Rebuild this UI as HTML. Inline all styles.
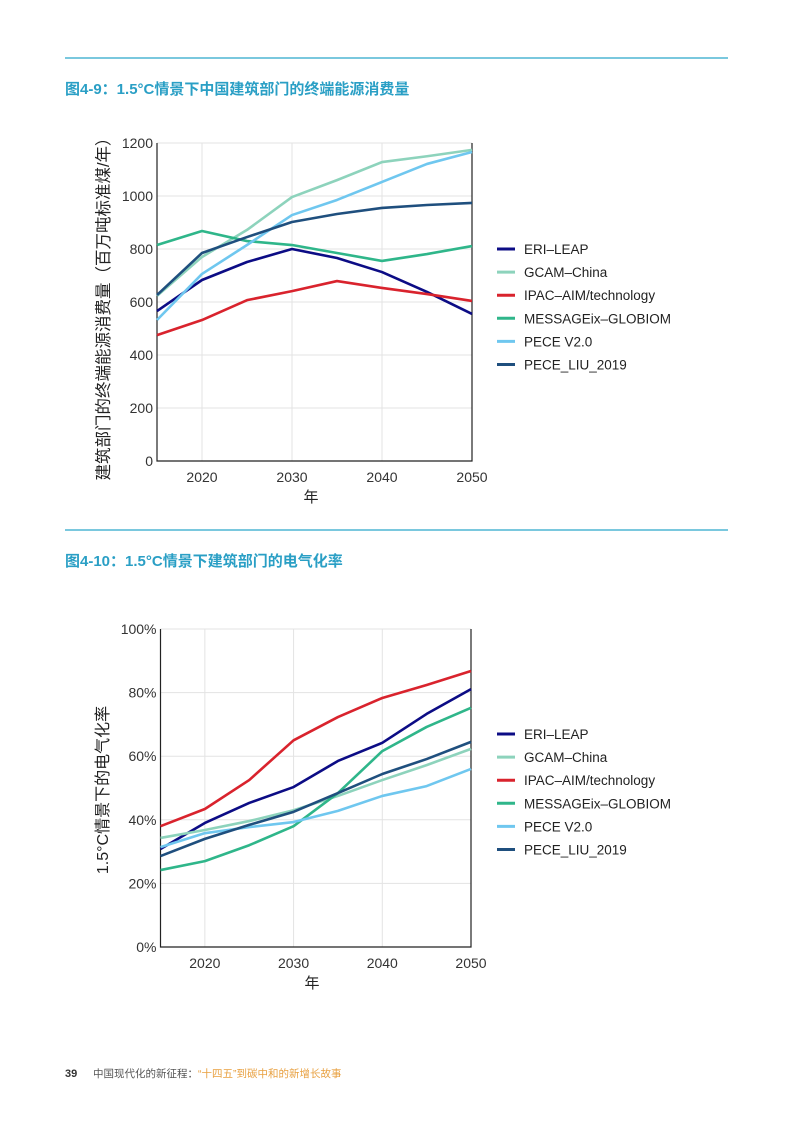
<!DOCTYPE html>
<html><head><meta charset="utf-8">
<style>
body{margin:0;background:#fff;width:793px;height:1122px;overflow:hidden;font-family:"Liberation Sans","Noto Sans CJK SC",sans-serif;}
svg{position:absolute;left:0;top:0}
</style></head>
<body>
<svg id="svg" width="793" height="1122">
<line x1="65" y1="58" x2="728" y2="58" stroke="#2aa6c9" stroke-width="1.2"/>
<text x="65" y="94" font-size="15" font-weight="bold" fill="#2a9fc5">图4-9：1.5°C情景下中国建筑部门的终端能源消费量</text>
<line x1="65" y1="530" x2="728" y2="530" stroke="#2aa6c9" stroke-width="1.2"/>
<text x="65" y="566" font-size="15" font-weight="bold" fill="#2a9fc5">图4-10：1.5°C情景下建筑部门的电气化率</text>
<text x="65" y="1077" font-size="11" font-weight="bold" fill="#333">39</text>
<text x="93" y="1077" font-size="10.5" fill="#555">中国现代化的新征程：<tspan fill="#e8a040">“十四五”到碳中和的新增长故事</tspan></text>
<g id="c1"></g>
<g id="c2"></g>
</svg>
<script>
const years=[2015,2020,2025,2030,2035,2040,2045,2050];
const seriesNames=["ERI–LEAP","GCAM–China","IPAC–AIM/technology","MESSAGEix–GLOBIOM","PECE V2.0","PECE_LIU_2019"];
const colors=["#0c0c85","#8dd3bc","#d9232d","#2fb68a","#6fc7ef","#1f4f7e"];
const energyERI=[566,683,751,800,766,713,638,555];
const energyGCAM=[623,770,872,996,1060,1128,1150,1174];
const energyIPAC=[475,532,607,641,679,653,630,604];
const energyMESSAGE=[815,868,830,815,785,755,781,811];
const energyPECE=[532,706,815,928,985,1053,1121,1166];
const energyLIU=[626,785,845,902,932,955,966,974];
const elecERI=[30.8,39,45.3,50.3,58.5,64.2,73.3,81.1];
const elecGCAM=[34.3,36.8,39.6,43,47.5,52.5,57.2,62.3];
const elecIPAC=[38,43.4,52.5,65,72.3,78.3,82.4,86.8];
const elecMESSAGE=[24.2,27,32,38,48.4,61.6,69.2,75.2];
const elecPECE=[31.4,35.8,37.7,39.3,42.8,47.5,50.6,56];
const elecLIU=[28.6,34,38.4,42.5,48.4,54.4,59.1,64.5];
const yTicks1=[0,200,400,600,800,1000,1200];
const yTicks2=[0,20,40,60,80,100];
const xTicks=[2020,2030,2040,2050];
const NS="http://www.w3.org/2000/svg";
function mk(p,t,a){const e=document.createElementNS(NS,t);for(const k in a)e.setAttribute(k,a[k]);p.appendChild(e);return e;}
function chart(g,cfg){
  const X=v=>cfg.x0+(v-2015)/(2050-2015)*(cfg.x1-cfg.x0);
  const Y=v=>cfg.y0-(v-cfg.ymin)/(cfg.ymax-cfg.ymin)*(cfg.y0-cfg.y1);
  cfg.yt.forEach(t=>{
    const l=mk(g,'line',{x1:cfg.x0,x2:cfg.x1,y1:Y(t),y2:Y(t),stroke:'#e3e3e3','stroke-width':1});
    
    
    const tk=mk(g,'text',{x:cfg.x0-4,y:Y(t)+5,'font-size':14,fill:'#333','text-anchor':'end'});
    tk.textContent=cfg.fmt(t);
    
    
  });
  xTicks.forEach(t=>{
    if(t<2050){const l=mk(g,'line',{x1:X(t),x2:X(t),y1:cfg.y1,y2:cfg.y0,stroke:'#e3e3e3','stroke-width':1});
    
    }
    const tk=mk(g,'text',{x:X(t),y:cfg.y0+21,'font-size':14,fill:'#333','text-anchor':'middle'});
    tk.textContent=t;
    
    
  });
  const ax=mk(g,'path',{d:`M${cfg.x0},${cfg.y1}V${cfg.y0}H${cfg.x1}V${cfg.y1}`,fill:'none',stroke:'#222','stroke-width':1.2});
  
  
  cfg.data.forEach((d,i)=>{
    const p=mk(g,'polyline',{points:d.map((v,j)=>X(years[j])+','+Y(v)).join(' '),fill:'none',stroke:colors[i],'stroke-width':2.6,'stroke-linejoin':'round'});
    
    
    const ly=cfg.ly+i*23.1;
    const ll=mk(g,'line',{x1:497,x2:515,y1:ly,y2:ly,stroke:colors[i],'stroke-width':3});
    
    
    const lt=mk(g,'text',{x:524,y:ly+5,'font-size':13.5,fill:'#222'});
    lt.textContent=seriesNames[i];
    
    
  });
  const xt=mk(g,'text',{x:cfg.xtx,y:cfg.y0+41,'font-size':15,fill:'#222','text-anchor':'middle'});
  xt.textContent='年';
  
  
  const yt=mk(g,'text',{x:0,y:0,'font-size':cfg.yfs,fill:'#222','text-anchor':'middle',transform:`translate(${cfg.ytx},${cfg.yty}) rotate(-90)`});
  yt.textContent=cfg.ytitle;
  
  
}
chart(document.getElementById('c1'),{x0:157,x1:472,y0:461,y1:143,ymin:0,ymax:1200,yt:yTicks1,fmt:t=>t,xtx:311,yfs:16.5,yty:305,
  data:[energyERI,energyGCAM,energyIPAC,energyMESSAGE,energyPECE,energyLIU],ly:249,ytx:109,ytitle:'建筑部门的终端能源消费量（百万吨标准煤/年）'});
chart(document.getElementById('c2'),{x0:160.5,x1:471,y0:947,y1:629,ymin:0,ymax:100,yt:yTicks2,fmt:t=>t+'%',xtx:312,yfs:16,yty:790,
  data:[elecERI,elecGCAM,elecIPAC,elecMESSAGE,elecPECE,elecLIU],ly:734,ytx:108,ytitle:'1.5°C情景下的电气化率'});
</script>
</body></html>
